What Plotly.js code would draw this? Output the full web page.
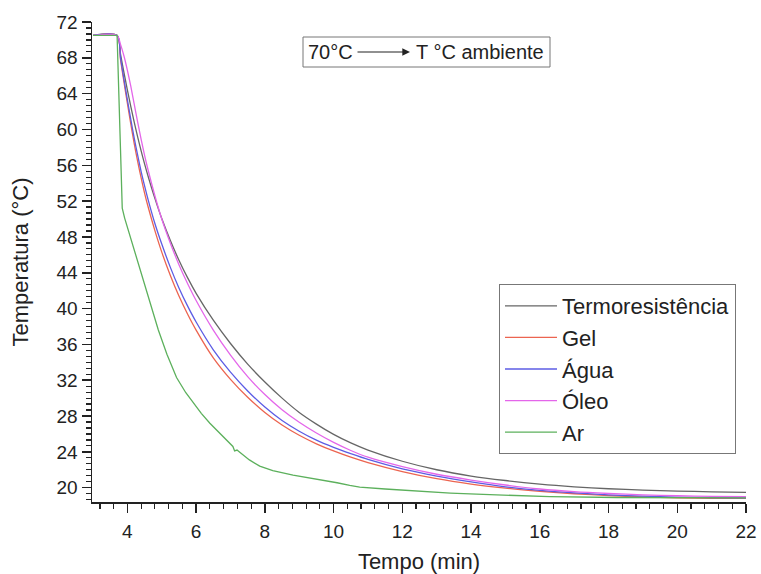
<!DOCTYPE html>
<html>
<head>
<meta charset="utf-8">
<script src="https://cdn.plot.ly/plotly-3.0.1.min.js"></script>
<style>html,body{margin:0;padding:0;background:#fff;}#chart{width:761px;height:574px;}</style>
</head>
<body>
<div id="chart"></div>
<script>
// ---- data ----
const seriesNames = ["Termoresistência", "Gel", "Água", "Óleo", "Ar"];

// common time grid for the smooth curves (min)
const tempoX = [3, 3.7, 3.8, 3.9, 4.0, 4.1, 4.2, 4.3, 4.4, 4.5, 4.6, 4.8, 5.0, 5.25, 5.5, 5.75, 6.0, 6.5, 7.0, 7.5, 8.0, 8.5, 9.0, 9.5, 10, 10.5, 11, 12, 13, 14, 15, 16, 17, 18, 19, 20, 21, 22];

const termoY = [70.5, 70.5, 68.4, 66.35, 64.4, 62.55, 60.8, 59.15, 57.6, 56.15, 54.8, 52.3, 50.05, 47.6, 45.4, 43.45, 41.7, 38.7, 36.1, 33.8, 31.8, 30.0, 28.4, 27.1, 25.95, 25.0, 24.2, 22.95, 22.0, 21.3, 20.8, 20.4, 20.1, 19.88, 19.73, 19.62, 19.54, 19.48];

const gelY = [70.5, 70.5, 67.8, 65.3, 62.9, 60.6, 58.4, 56.4, 54.6, 52.9, 51.4, 48.7, 46.3, 43.7, 41.4, 39.4, 37.6, 34.5, 32.1, 30.1, 28.4, 27.0, 25.85, 24.9, 24.1, 23.4, 22.8, 21.8, 21.0, 20.4, 19.95, 19.6, 19.32, 19.12, 18.97, 18.87, 18.82, 18.8];

const aguaY = [70.5, 70.5, 68.0, 65.6, 63.3, 61.1, 59.0, 57.1, 55.3, 53.7, 52.2, 49.5, 47.2, 44.6, 42.3, 40.3, 38.5, 35.4, 32.9, 30.8, 29.0, 27.5, 26.3, 25.3, 24.5, 23.8, 23.15, 22.1, 21.3, 20.65, 20.1, 19.7, 19.42, 19.2, 19.05, 18.95, 18.88, 18.85];

const oleoY = [70.5, 70.5, 69.5, 68.2, 66.6, 64.8, 62.8, 60.8, 58.9, 57.1, 55.5, 52.6, 50.0, 47.3, 44.9, 42.8, 40.9, 37.6, 34.8, 32.4, 30.4, 28.7, 27.3, 26.1, 25.05, 24.15, 23.4, 22.35, 21.5, 20.85, 20.3, 19.85, 19.55, 19.35, 19.2, 19.1, 19.03, 19.0];

// Ar has its own (noisier) sampling
const arX = [3, 3.7, 3.8, 3.85, 3.92, 4.2, 4.55, 4.9, 5.15, 5.43, 5.7, 5.91, 6.15, 6.4, 6.65, 6.89, 7.07, 7.12, 7.19, 7.27, 7.55, 7.85, 8.23, 8.82, 9.3, 9.79, 10.1, 10.47, 10.76, 11.5, 12.41, 13.4, 14.35, 15.3, 16.29, 18.24, 20.2, 22.0];
const arY = [70.5, 70.5, 57.7, 51.2, 50.1, 46.6, 42.1, 37.6, 34.9, 32.3, 30.6, 29.5, 28.3, 27.2, 26.2, 25.3, 24.6, 24.1, 24.2, 23.95, 23.1, 22.4, 21.9, 21.4, 21.1, 20.8, 20.55, 20.26, 20.07, 19.85, 19.6, 19.4, 19.25, 19.1, 19.0, 18.9, 18.88, 18.85];

const xTickVals = [4, 6, 8, 10, 12, 14, 16, 18, 20, 22];
const yTickVals = [20, 24, 28, 32, 36, 40, 44, 48, 52, 56, 60, 64, 68, 72];
const noteLeft = "70°C";
const noteRight = "T °C ambiente";
const xTitle = "Tempo (min)";
const yTitle = "Temperatura (°C)";

// ---- styles ----
const colors = ["#666666", "#ec6450", "#5c5ce4", "#e466ea", "#5cb05c"];
const xs = [tempoX, tempoX, tempoX, tempoX, arX];
const ys = [termoY, gelY, aguaY, oleoY, arY];

const traces = seriesNames.map((n, i) => ({
  type: "scatter", mode: "lines", name: n,
  x: xs[i], y: ys[i],
  legendgroup: "g" + i,
  line: i < 4 ? {color: colors[i], width: 1.3, shape: "spline", smoothing: 0.8}
              : {color: colors[i], width: 1.3, shape: "linear"}
}));

// plot-area pixel helpers (layout only)
const L = 92, R = 746, T = 22, B = 502;
const pxX = p => (p - L) / (R - L);
const pxY = p => (B - p) / (B - T);

const FONT = "Liberation Sans, Arial, sans-serif";

const layout = {
  width: 761, height: 574,
  margin: {l: L, r: 761 - R, t: T, b: 574 - B, pad: 0},
  paper_bgcolor: "#fff", plot_bgcolor: "#fff",
  font: {family: FONT, color: "#222", size: 19},
  showlegend: true,
  legend: {
    x: pxX(499), y: pxY(284), xanchor: "left", yanchor: "top",
    bordercolor: "#777", borderwidth: 1, bgcolor: "#fff",
    font: {family: FONT, size: 22, color: "#222"},
    tracegroupgap: 0, itemwidth: 52, traceorder: "normal"
  },
  xaxis: {
    range: [2.97, 22], tickvals: xTickVals, ticktext: xTickVals.map(String),
    showgrid: false, zeroline: false,
    showline: true, linecolor: "#222", linewidth: 1.5,
    ticks: "outside", ticklen: 9, tickwidth: 1.5, tickcolor: "#222",
    ticklabelstandoff: 3,
    tickfont: {size: 19, family: FONT, color: "#222"},
    minor: {dtick: 0.4, tick0: 0, ticks: "outside", ticklen: 5, tickwidth: 1.2, tickcolor: "#222", showgrid: false},
    title: {text: xTitle, font: {size: 22, family: FONT, color: "#222"}, standoff: 16}
  },
  yaxis: {
    range: [18.4, 72], tickvals: yTickVals, ticktext: yTickVals.map(String),
    showgrid: false, zeroline: false,
    showline: true, linecolor: "#222", linewidth: 1.5,
    ticks: "outside", ticklen: 9, tickwidth: 1.5, tickcolor: "#222",
    tickfont: {size: 19, family: FONT, color: "#222"},
    minor: {dtick: 4 / 6, tick0: 0, ticks: "outside", ticklen: 5, tickwidth: 1.2, tickcolor: "#222", showgrid: false},
    title: {text: yTitle, font: {size: 22, family: FONT, color: "#222"}, standoff: 22}
  },
  shapes: [
    {type: "rect", xref: "paper", yref: "paper",
     x0: pxX(303), x1: pxX(550), y0: pxY(67), y1: pxY(37),
     line: {color: "#777", width: 1}, fillcolor: "rgba(0,0,0,0)"}
  ],
  annotations: [
    {xref: "paper", yref: "paper", x: pxX(306), y: pxY(52), xanchor: "left", yanchor: "middle",
     text: noteLeft, showarrow: false, font: {size: 20, family: FONT, color: "#222"}},
    {xref: "paper", yref: "paper", x: pxX(414), y: pxY(52), xanchor: "left", yanchor: "middle",
     text: noteRight, showarrow: false, font: {size: 20, family: FONT, color: "#222"}},
    {xref: "paper", yref: "paper", x: pxX(410), y: pxY(52), ax: -54, ay: 0,
     text: "", showarrow: true, arrowhead: 2, arrowsize: 1.4, arrowwidth: 1.1, arrowcolor: "#222"}
  ]
};

Plotly.newPlot("chart", traces, layout, {displayModeBar: false, staticPlot: true});
</script>
</body>
</html>
